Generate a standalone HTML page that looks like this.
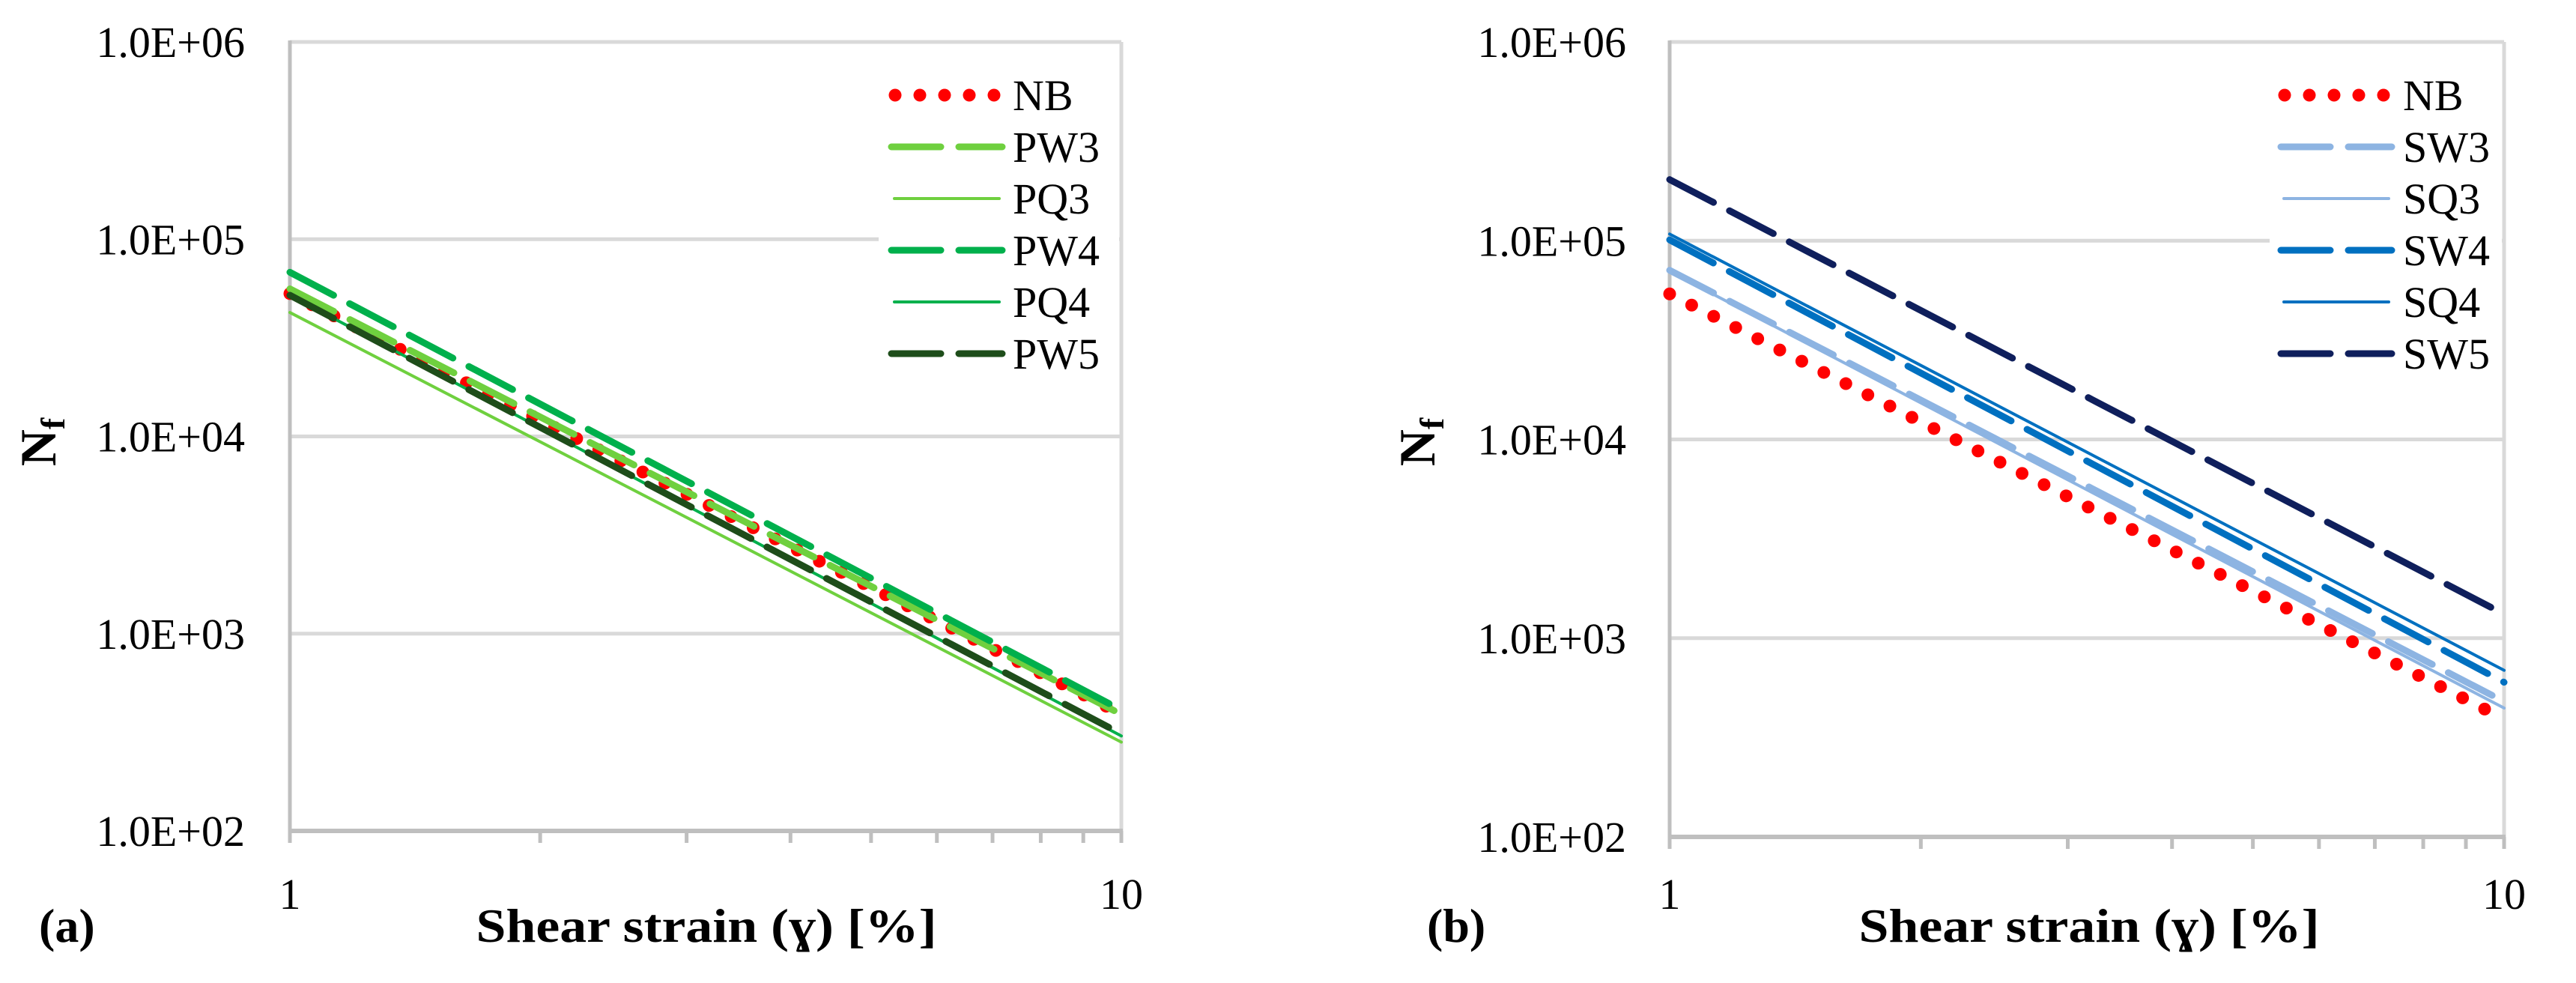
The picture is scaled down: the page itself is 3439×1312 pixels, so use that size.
<!DOCTYPE html>
<html><head><meta charset="utf-8"><style>
html,body{margin:0;padding:0;background:#fff;}
svg{display:block;font-family:"Liberation Serif",serif;}
</style></head><body>
<svg id="fig" width="3439" height="1312" viewBox="0 0 3439 1312" xmlns="http://www.w3.org/2000/svg"></svg>
<script>
// ---- data (a) ----
const xValues = [1, 10];
const aNames = ["NB", "PW3", "PQ3", "PW4", "PQ4", "PW5"];
const aNB  = [53000, 392];
const aPW3 = [56000, 390];
const aPQ3 = [42500, 282];
const aPW4 = [68000, 410];
const aPQ4 = [52000, 303];
const aPW5 = [52000, 310];
// ---- data (b) ----
const bNames = ["NB", "SW3", "SQ3", "SW4", "SQ4", "SW5"];
const bNB  = [54000, 392];
const bSW3 = [71000, 480];
const bSQ3 = [70000, 445];
const bSW4 = [101000, 600];
const bSQ4 = [108000, 689];
const bSW5 = [203000, 1320];
const yTickLabels = ["1.0E+02", "1.0E+03", "1.0E+04", "1.0E+05", "1.0E+06"];
const yTickValues = [100, 1000, 10000, 100000, 1000000];
const xTickLabels = ["1", "10"];
const xTickValues = [1, 10];
const minorTicks = [2, 3, 4, 5, 6, 7, 8, 9];

const NS = "http://www.w3.org/2000/svg";
const svg = document.getElementById("fig");
function mk(tag, attrs, parent) {
  const e = document.createElementNS(NS, tag);
  for (const k in attrs) e.setAttribute(k, attrs[k]);
  (parent || svg).appendChild(e);
  return e;
}
const styles = {
  NB: {c: "#ff0000", w: 17, d: "0 33", cap: "round"},
  PW3: {c: "#6fd03f", w: 9, d: "66 24", cap: "round"},
  PQ3: {c: "#6fd03f", w: 4, d: "", cap: "round"},
  PW4: {c: "#00b04c", w: 9, d: "66 24", cap: "round"},
  PQ4: {c: "#00b04c", w: 4, d: "", cap: "round"},
  PW5: {c: "#1e4d1a", w: 9, d: "66 24", cap: "round"},
  SW3: {c: "#8db4e2", w: 9, d: "66 24", cap: "round"},
  SQ3: {c: "#8db4e2", w: 4, d: "", cap: "round"},
  SW4: {c: "#0070c0", w: 9, d: "66 24", cap: "round"},
  SQ4: {c: "#0070c0", w: 4, d: "", cap: "round"},
  SW5: {c: "#0f1f5c", w: 9, d: "66 24", cap: "round"}
};

function drawChart(cfg) {
  const g = mk("g", {});
  
  
  const L = cfg.left, R = cfg.right, T = cfg.top, B = cfg.bottom;
  const xs = v => L + (Math.log10(v) - 0) / 1 * (R - L);
  const ys = v => B - (Math.log10(v) - 2) / 4 * (B - T);
  // gridlines
  yTickValues.forEach((v, i) => {
    if (i === 0) return;
    const gl = mk("line", {x1: L, x2: R, y1: ys(v), y2: ys(v), stroke: "#d9d9d9", "stroke-width": 5}, g);
    
    
  });
  const rb = mk("line", {x1: R, x2: R, y1: T, y2: B, stroke: "#d9d9d9", "stroke-width": 5}, g);
  
  
  // axes
  const xa = mk("line", {x1: L - 2, x2: R + 2, y1: B, y2: B, stroke: "#bfbfbf", "stroke-width": 6}, g);
  
  
  const ya = mk("line", {x1: L, x2: L, y1: T - 2, y2: B + 16, stroke: "#bfbfbf", "stroke-width": 5}, g);
  
  
  minorTicks.concat([10]).forEach(v => {
    const t = mk("line", {x1: xs(v), x2: xs(v), y1: B, y2: B + 16, stroke: "#bfbfbf", "stroke-width": 5}, g);
    
    
  });
  // y tick labels
  yTickValues.forEach((v, i) => {
    const t = mk("text", {x: cfg.yLabelRight, y: ys(v) + 20, "text-anchor": "end", "font-size": 58, fill: "#000"}, g);
    t.textContent = yTickLabels[i];
    
    
  });
  xTickValues.forEach((v, i) => {
    const t = mk("text", {x: xs(v), y: 1213, "text-anchor": "middle", "font-size": 58, fill: "#000"}, g);
    t.textContent = xTickLabels[i];
    
    
  });
  // series
  cfg.names.forEach((n, i) => {
    const vals = cfg.series[i];
    const s = styles[n];
    const x0 = xs(xValues[0]), x1 = xs(xValues[1]);
    const ln = mk("line", {x1: x0, y1: ys(vals[0]), x2: x1, y2: ys(vals[1]), stroke: s.c, "stroke-width": s.w, "stroke-linecap": s.cap}, g);
    if (s.d) ln.setAttribute("stroke-dasharray", s.d);
    
    
  });
  // legend
  const lg = mk("g", {}, g);
  
  
  mk("rect", {x: cfg.legX, y: 88, width: R - 3 - cfg.legX, height: 420, fill: "#fff"}, lg);
  cfg.names.forEach((n, i) => {
    const cy = 127 + i * 69;
    const s = styles[n];
    const e = mk("g", {}, lg);
    
    
    let sx0 = cfg.sampleX0, sx1 = cfg.sampleX1;
    if (!s.d) { sx0 += 4; sx1 -= 4; }
    const sl = mk("line", {x1: s.d === "0 33" ? sx0 + 5 : sx0, x2: sx1, y1: cy, y2: cy, stroke: s.c, "stroke-width": s.w, "stroke-linecap": s.cap}, e);
    if (s.d) sl.setAttribute("stroke-dasharray", s.d);
    const tx = mk("text", {x: cfg.textX, y: cy + 20, "font-size": 58, fill: "#000"}, e);
    tx.textContent = n;
  });
  // axis titles
  const yt = mk("text", {x: 0, y: 0, "font-size": 68, "font-weight": "bold", "text-anchor": "middle",
    transform: "translate(" + (cfg.yTitleX + 22) + ",590) rotate(-90)"}, g);
  yt.innerHTML = 'N<tspan font-size="46" dy="12">f</tspan>';
  
  
  const xt = mk("text", {x: cfg.xTitleX, y: 1257, "font-size": 64, "font-weight": "bold", "text-anchor": "middle",
    textLength: 615, lengthAdjust: "spacingAndGlyphs"}, g);
  xt.textContent = "Shear strain (\u0263) [%]";
  
  
  const pl = mk("text", {x: cfg.panelX, y: 1257, "font-size": 64, "font-weight": "bold"}, g);
  pl.textContent = cfg.panel;
  
  
}

drawChart({id: "a", left: 387, right: 1497, top: 56, bottom: 1109, yLabelRight: 327,
  names: aNames, series: [aNB, aPW3, aPQ3, aPW4, aPQ4, aPW5],
  legX: 1173, sampleX0: 1190, sampleX1: 1338, textX: 1352,
  yTitleX: 52, xTitleX: 943, panelX: 52, panel: "(a)"});
drawChart({id: "b", left: 2229, right: 3343, top: 56, bottom: 1117, yLabelRight: 2171,
  names: bNames, series: [bNB, bSW3, bSQ3, bSW4, bSQ4, bSW5],
  legX: 3030, sampleX0: 3045, sampleX1: 3193, textX: 3208,
  yTitleX: 1893, xTitleX: 2789, panelX: 1905, panel: "(b)"});
</script>
</body></html>
